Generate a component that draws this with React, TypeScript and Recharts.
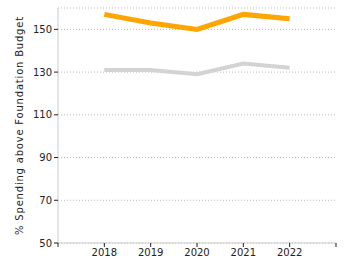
import React from "react";
import { LineChart, Line, XAxis, YAxis, CartesianGrid } from "recharts";

const years = [2018, 2019, 2020, 2021, 2022];
const spendingAbove = [157, 153, 150, 157, 155];
const foundation = [131, 131, 129, 134, 132];
const xTicks = [2017, 2018, 2019, 2020, 2021, 2022, 2023];
const yTicks = [50, 70, 90, 110, 130, 150];

const data = years.map((y, i) => ({ year: y, a: spendingAbove[i], b: foundation[i] }));

const font = "DejaVu Sans, Verdana, sans-serif";

export default function App() {
  return (
    <div style={{ position: "absolute", left: 0, top: 0 }}>
      <LineChart width={350} height={275} data={data} margin={{ top: 8, right: 14, bottom: 2, left: 0 }}>
        <CartesianGrid vertical={false} stroke="#bbb" strokeDasharray="1 2" />
        <XAxis
          dataKey="year"
          type="number"
          domain={[2017, 2023]}
          ticks={xTicks}
          tickFormatter={(v: number) => (v === 2017 || v === 2023 ? "" : String(v))}
          axisLine={{ stroke: "#ccc" }}
          tickLine={{ stroke: "#222" }}
          tickSize={4}
          tick={{ fill: "#222", fontSize: 10, fontFamily: font }}
        />
        <YAxis
          domain={[50, 160]}
          ticks={yTicks}
          width={58}
          axisLine={{ stroke: "#ccc" }}
          tickLine={{ stroke: "#222" }}
          tickSize={4}
          tick={{ fill: "#222", fontSize: 10, fontFamily: font }}
          label={{
            value: "% Spending above Foundation Budget",
            angle: -90,
            position: "insideLeft",
            dx: 14,
            style: { fill: "#222", fontSize: 10, fontFamily: font, letterSpacing: 0.8, textAnchor: "middle" },
          }}
        />
        <Line dataKey="b" stroke="#d3d3d3" strokeWidth={4} dot={false} isAnimationActive={false} />
        <Line dataKey="a" stroke="#ffa500" strokeWidth={5} dot={false} isAnimationActive={false} />
      </LineChart>
    </div>
  );
}
